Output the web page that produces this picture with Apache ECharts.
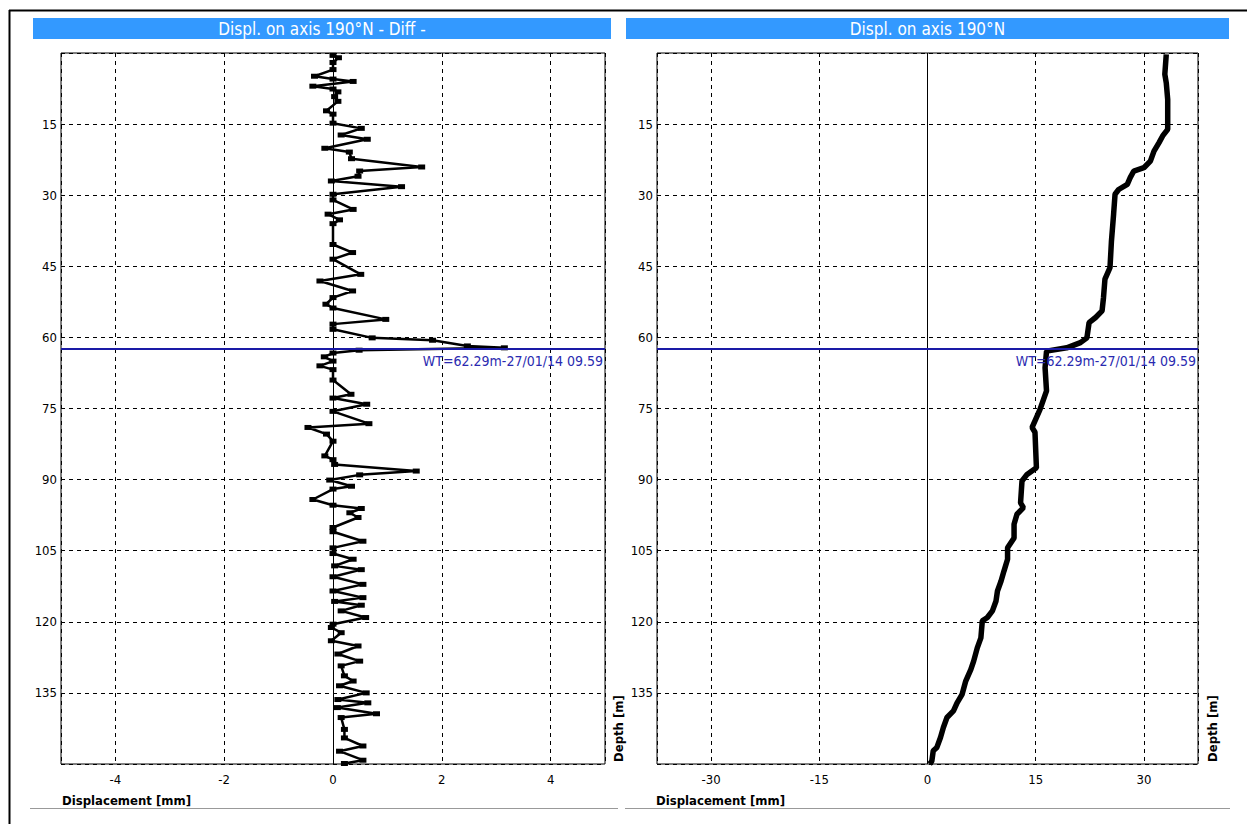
<!DOCTYPE html>
<html>
<head>
<meta charset="utf-8">
<script src="https://cdn.jsdelivr.net/npm/echarts@6/dist/echarts.min.js"></script>
<style>
html,body{margin:0;padding:0;background:#fff;}
#chart{width:1247px;height:824px;}
</style>
</head>
<body>
<div id="chart"></div>
<script>
// ---- Data ----
const titleLeft = 'Displ. on axis 190°N - Diff -';
const titleRight = 'Displ. on axis 190°N';
const depthMin = 0, depthMax = 150, depthStep = 15;
const wtDepth = 62.29;
const wtLabel = 'WT=62.29m-27/01/14 09.59';

// Left chart: differential displacement [mm] vs depth [m]
const leftDepth = [0.5,1,2,3.5,4.9,5.5,6,7,7.6,8.2,9.2,10.2,12.2,12.9,14.8,15.9,17.3,18.2,20.1,20.9,22.3,24.05,24.9,26,27,28.2,29.8,31,33,34,35.2,36,40.4,42.1,43.5,46.7,48.1,50.2,51.6,53,53.8,56.2,57.2,58.3,60.1,60.6,61.8,62.2,62.7,63.3,64.1,65,66,66.8,69,72,72.8,74.1,75.6,78.2,79,80.4,81.9,85,85.8,86.8,88.2,89,90.1,91.4,92,94.2,95.4,96.1,97,98,100.1,101,103,104.4,105.6,106.8,108.2,109,110.5,112.1,113.5,114.9,115.7,116.5,117.7,119.1,120.5,121.2,122.3,124,125.1,126.8,128.3,129.3,131.4,132.5,133.5,135,136.4,137.1,138.1,139.4,140.2,142.7,144.5,146.2,147.3,149.2,149.9];
const leftDiff = [0,0.1,0,0,-0.34,0,0.37,-0.37,0,0.09,0.03,0.09,-0.12,0,0,0.52,0.15,0.63,-0.15,0.3,0.34,1.63,0.49,0.46,-0.03,1.26,0,0,0.37,-0.09,0.12,0,0,0.36,0,0.51,-0.24,0.36,0,-0.13,0,0.97,0,0,0.72,1.83,2.47,3.15,0.48,0,-0.16,0,-0.24,0,0,0.33,0,0.62,0,0.66,-0.46,-0.12,0,-0.15,0,0.03,1.53,0.49,-0.06,0.34,0,-0.37,0,0.52,0.31,0.46,0,0,0.55,0,0,0.37,0.03,0.52,0,0.55,0,0.55,0.03,0.52,0.15,0.6,0,-0.03,0.15,-0.03,0.46,0.09,0.49,0.15,0.21,0.37,0.12,0.61,0.09,0.64,0.08,0.8,0.15,0.21,0.21,0.55,0.12,0.55,0.21];

// Right chart: cumulative displacement [mm] vs depth [m]
const rightDepth = [0.3,4.5,6.3,9.8,16.1,17.5,18.9,20.7,22.8,24.2,24.9,26.3,27.7,28.8,29.8,34,39.7,45.3,47.7,51.6,54.4,55.8,56.9,60.1,61.1,62.2,62.9,66.4,71.3,75.2,77.6,79,80,87.5,88.9,90.3,94.9,95.9,97.3,99.4,102.3,104.4,106.8,109.3,111.4,113.5,115.6,117.7,119.1,119.8,123.4,125.5,128.3,130.1,132.5,135.3,137.1,138.8,140.2,142.3,144.4,146.5,147.2,149.4,150];
const rightDisp = [33.1,32.9,33.1,33.3,33.3,32.6,32.1,31.4,30.9,30.0,28.6,28.1,27.7,26.5,26.0,25.8,25.5,25.3,24.6,24.4,24.2,23.3,22.4,22.1,21.2,19.3,16.5,16.3,16.5,15.6,14.9,14.5,14.9,15.1,13.8,13.1,12.9,13.3,12.4,12.0,12.0,11.1,11.1,10.6,10.2,9.7,9.5,9.0,8.3,7.6,7.4,6.9,6.4,6.0,5.3,4.8,4.1,3.6,2.7,2.2,1.8,1.3,0.8,0.6,0.3];

const leftRange = [-5, 5], leftStep = 2;
const rightRange = [-37.5, 37.5], rightStep = 15;
const xName = 'Displacement [mm]';
const yName = 'Depth [m]';

// ---- Chart ----
const FONT = "'Liberation Sans Narrow','DejaVu Sans Condensed','Arial Narrow',sans-serif";
const chart = echarts.init(document.getElementById('chart'), null, {renderer: 'svg'});

const leftPairs = leftDepth.map((d, i) => [leftDiff[i], d]);
const rightPairs = rightDepth.map((d, i) => [rightDisp[i], d]);

function xAxisCfg(idx, range, step) {
  return {
    gridIndex: idx, type: 'value', min: range[0], max: range[1],
    minInterval: step, maxInterval: step, splitNumber: 5,
    axisLine: {show: false}, axisTick: {show: false},
    axisLabel: {showMinLabel: false, showMaxLabel: false, color: '#000', fontSize: 13, fontFamily: FONT, margin: 9},
    splitLine: {show: true, lineStyle: {color: '#000', width: 1, type: [4, 4]}}
  };
}
function yAxisCfg(idx) {
  return {
    gridIndex: idx, type: 'value', inverse: true, min: depthMin, max: depthMax, interval: depthStep,
    axisLine: {show: false}, axisTick: {show: false},
    axisLabel: {showMinLabel: false, showMaxLabel: false, color: '#000', fontSize: 13, fontFamily: FONT, margin: 4},
    splitLine: {show: true, lineStyle: {color: '#000', width: 1, type: [4, 4]}}
  };
}
function markLines() {
  return {
    silent: true, symbol: 'none', animation: false,
    data: [
      {xAxis: 0, lineStyle: {color: '#000', width: 1, type: 'solid'}, label: {show: false}},
      {yAxis: wtDepth, lineStyle: {color: '#1a1aa6', width: 2, type: 'solid'},
       label: {show: true, formatter: wtLabel, position: 'insideEndBottom', color: '#2a2ab0', fontSize: 14, fontFamily: FONT, distance: [2, 6]}}
    ]
  };
}

const grids = [
  {left: 61, top: 53, width: 544, height: 711},
  {left: 657, top: 53, width: 541, height: 711}
];

function titleBar(x, w, text) {
  return [
    {type: 'rect', shape: {x: x, y: 18, width: w, height: 21}, style: {fill: '#3399ff'}, silent: true},
    {type: 'text', x: x + w / 2, y: 28.5, style: {text: text, fill: '#fff', font: '17px ' + FONT, textAlign: 'center', textVerticalAlign: 'middle'}, silent: true}
  ];
}

const option = {
  animation: false,
  backgroundColor: '#fff',
  grid: grids.map(g => Object.assign({show: true, borderColor: '#000', borderWidth: 1, backgroundColor: '#fff'}, g)),
  xAxis: [xAxisCfg(0, leftRange, leftStep), xAxisCfg(1, rightRange, rightStep)],
  yAxis: [yAxisCfg(0), yAxisCfg(1)],
  series: [
    {type: 'line', xAxisIndex: 0, yAxisIndex: 0, data: leftPairs, symbol: 'rect', symbolSize: [7, 5], showAllSymbol: true,
     itemStyle: {color: '#000'}, lineStyle: {color: '#000', width: 2.5}, markLine: markLines(), z: 3},
    {type: 'line', xAxisIndex: 1, yAxisIndex: 1, data: rightPairs, symbol: 'none',
     lineStyle: {color: '#000', width: 5.5}, markLine: markLines(), z: 3}
  ],
  graphic: [
    // outer frame
    {type: 'line', shape: {x1: 9, y1: 10.5, x2: 1247, y2: 10.5}, style: {stroke: '#000', lineWidth: 2}, silent: true},
    {type: 'line', shape: {x1: 9.5, y1: 10, x2: 9.5, y2: 824}, style: {stroke: '#000', lineWidth: 2}, silent: true},
    ...titleBar(33, 578, titleLeft),
    ...titleBar(626, 603, titleRight),
    // bottom separators
    {type: 'line', shape: {x1: 30, y1: 808.5, x2: 618, y2: 808.5}, style: {stroke: '#999', lineWidth: 1}, silent: true},
    {type: 'line', shape: {x1: 625, y1: 808.5, x2: 1230, y2: 808.5}, style: {stroke: '#999', lineWidth: 1}, silent: true},
    // axis names
    {type: 'text', x: 62, y: 800, style: {text: xName, fill: '#000', font: 'bold 13px ' + FONT, textAlign: 'left', textVerticalAlign: 'middle'}, silent: true},
    {type: 'text', x: 656, y: 800, style: {text: xName, fill: '#000', font: 'bold 13px ' + FONT, textAlign: 'left', textVerticalAlign: 'middle'}, silent: true},
    {type: 'text', x: 618, y: 762, rotation: Math.PI / 2, style: {text: yName, fill: '#000', font: 'bold 13px ' + FONT, textAlign: 'left', textVerticalAlign: 'middle'}, silent: true},
    {type: 'text', x: 1212, y: 762, rotation: Math.PI / 2, style: {text: yName, fill: '#000', font: 'bold 13px ' + FONT, textAlign: 'left', textVerticalAlign: 'middle'}, silent: true}
  ]
};
chart.setOption(option);
</script>
</body>
</html>
